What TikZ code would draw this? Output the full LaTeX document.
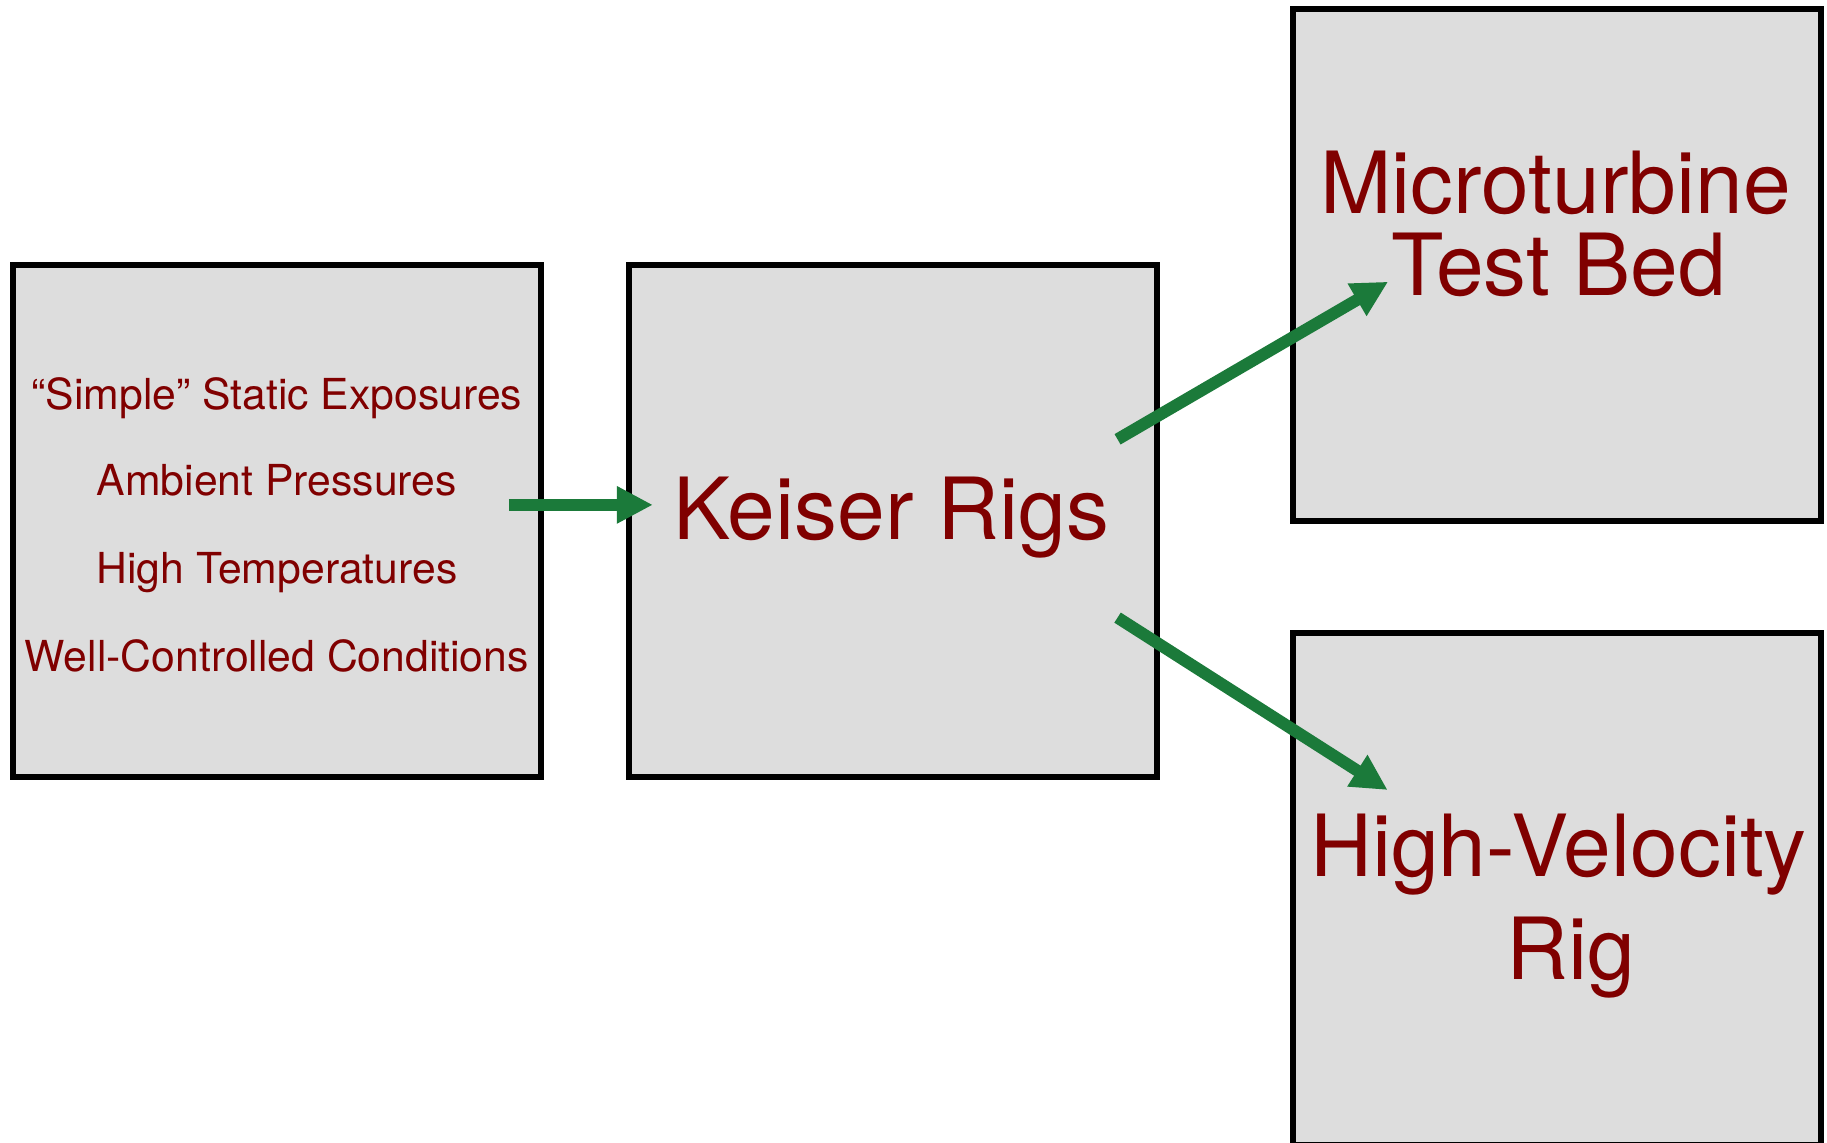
\documentclass[tikz,border=0pt]{standalone}
\usepackage{fontspec}
\setmainfont{TeX Gyre Heros}
\usetikzlibrary{arrows.meta,positioning}
\definecolor{boxgray}{RGB}{221,221,221}
\definecolor{textred}{RGB}{128,0,0}
\definecolor{arrowgreen}{RGB}{27,122,58}

\begin{document}
\begin{tikzpicture}[
    rigbox/.style={draw=black, fill=boxgray, line width=0.06cm, outer sep=0pt,
      minimum width=5.28cm, minimum height=5.12cm},
    small/.style={text=textred, anchor=base, inner sep=0pt, font=\fontsize{12.15pt}{14pt}\selectfont},
    big/.style={text=textred, anchor=base, inner sep=0pt, font=\fontsize{24.4pt}{28pt}\selectfont},
    flow/.style={draw=arrowgreen, line width=0.12cm, -{Triangle[length=0.36cm,width=0.35cm]}}]

    \useasboundingbox (0,0) rectangle (18.27,-11.42);

    \node[rigbox] (lbox) at (2.7685,-5.2085) {};
    \node[rigbox] (kbox) at (8.9285,-5.2085) {};
    \node[rigbox] (mbox) at (15.5685,-2.65) {};
    \node[rigbox] (hbox) at (15.5685,-8.89) {};

    % conditions of the static exposures
    \node[small] (simple) at (2.7685,-4.093) {“Simple” Static Exposures};
    \node[small] (ambient) at (2.7685,-4.955) {Ambient Pressures};
    \node[small] (hightemp) at (2.7685,-5.838) {High Temperatures};
    \node[small] (wellctrl) at (2.7685,-6.714) {Well-Controlled Conditions};

    \node[big] (keiser) at (8.91,-5.395) {Keiser Rigs};
    \node[big] (micro) at (15.555,-2.13) {Microturbine};
    \node[big] (testbed) at (15.59,-2.95) {Test Bed};
    \node[big] (highvel) at (15.585,-8.76) {High-Velocity};
    \node[big] (rig) at (15.71,-9.79) {Rig};

    \draw[flow] ([shift={(-0.32,0.16)}]lbox.east) -- ([shift={(0.24,0.16)}]kbox.west);
    \draw[flow] ([shift={(-0.393,0.8155)}]kbox.east) -- ([shift={(0.953,-0.167)}]mbox.west);
    \draw[flow] ([shift={(-0.393,-0.9675)}]kbox.east) -- ([shift={(0.948,0.99)}]hbox.west);
  \end{tikzpicture}
\end{document}
